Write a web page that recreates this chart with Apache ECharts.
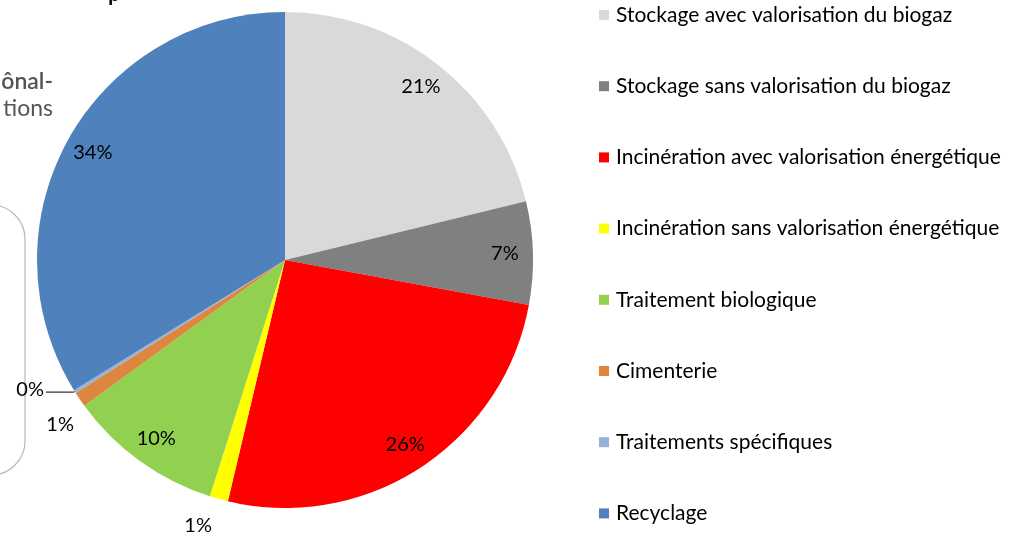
<!DOCTYPE html>
<html lang="fr">

<head>
    <meta charset="UTF-8">
    <title>Modes de traitement</title>
    <script src="https://cdn.jsdelivr.net/npm/echarts@6/dist/echarts.min.js"></script>
    <style>
        html, body { margin: 0; padding: 0; background: #ffffff; }
        #myecharts { width: 1030px; height: 536px; }
    </style>
</head>

<body>
    <div id="myecharts"></div>
</body>

<script>
    // categories et parts (%)
    var categories = [
        'Stockage avec valorisation du biogaz',
        'Stockage sans valorisation du biogaz',
        'Incinération avec valorisation énergétique',
        'Incinération sans valorisation énergétique',
        'Traitement biologique',
        'Cimenterie',
        'Traitements spécifiques',
        'Recyclage'
    ];
    var parts = [21.2, 6.7, 25.8, 1.2, 10.1, 1.0, 0.2, 33.8];
    var couleurs = ['#d9d9d9', '#808080', '#ff0000', '#ffff00', '#92d050', '#dd8640', '#95b3d7', '#4f81bd'];

    var font = 'Lato, "Open Sans", sans-serif';
    var R = 248;

    // petites parts : étiquette à l'extérieur
    function petit(v) { return v < 2; }

    // pourcentage arrondi, comme dans Excel
    function pct(p) { return Math.round(p.percent) + '%'; }

    var dataPie = categories.map(function (nom, i) {
        var v = parts[i];
        return {
            name: nom,
            value: v,
            itemStyle: { color: couleurs[i] },
            label: { show: petit(v) },
            labelLine: { show: i === 6, length: i === 6 ? 1 : 18, length2: i === 6 ? 28 : 0 }
        };
    });

    // anneau transparent pour placer les grandes étiquettes vers le bord
    var dataAnneau = categories.map(function (nom, i) {
        return {
            name: nom,
            value: parts[i],
            label: { show: !petit(parts[i]) }
        };
    });

    // petits décalages des étiquettes extérieures
    var decalages = { 3: [0, 9], 5: [11, 15], 6: [0, -3] };

    var myChart = echarts.init(document.getElementById('myecharts'));
    myChart.setOption({
        animation: false,
        legend: {
            orient: 'vertical',
            left: 594,
            top: -1,
            icon: 'rect',
            itemWidth: 10,
            itemHeight: 10,
            itemGap: 49.2,
            selectedMode: false,
            data: categories,
            textStyle: { fontFamily: font, fontSize: 21, lineHeight: 22, color: '#000', padding: [0, 0, 0, 2] }
        },
        graphic: [
            {
                type: 'rect',
                shape: { x: -220, y: 205, width: 245, height: 270, r: 34 },
                style: { fill: 'none', stroke: '#b8b8b8', lineWidth: 1.2 }
            },
            {
                type: 'text', x: 53, y: 82,
                style: { text: 'ônal-', font: '600 23px ' + font, fill: '#555', textAlign: 'right', textVerticalAlign: 'middle' }
            },
            {
                type: 'text', x: 53, y: 109,
                style: { text: 'tions', font: '23px ' + font, fill: '#555', textAlign: 'right', textVerticalAlign: 'middle' }
            },
            {
                type: 'text', left: 108, top: -17,
                style: { text: 'p', font: 'bold 22px ' + font, fill: '#111' }
            }
        ],
        series: [
            {
                name: 'Modes de traitement',
                type: 'pie',
                center: [285, 260],
                radius: [0, R],
                startAngle: 90,
                clockwise: true,
                avoidLabelOverlap: false,
                silent: true,
                itemStyle: { borderWidth: 0 },
                label: {
                    position: 'outside',
                    formatter: pct,
                    fontFamily: font,
                    fontSize: 20,
                    color: '#000',
                    distanceToLabelLine: 2
                },
                labelLine: { lineStyle: { color: '#000', width: 1 } },
                labelLayout: function (p) {
                    var d = decalages[p.dataIndex];
                    return d ? { dx: d[0], dy: d[1] } : {};
                },
                data: dataPie
            },
            {
                name: 'etiquettes',
                type: 'pie',
                center: [285, 260],
                radius: [R * 0.75, R],
                startAngle: 90,
                clockwise: true,
                avoidLabelOverlap: false,
                silent: true,
                legendHoverLink: false,
                itemStyle: { color: 'rgba(0,0,0,0)', borderWidth: 0 },
                label: {
                    position: 'inside',
                    formatter: pct,
                    fontFamily: font,
                    fontSize: 20,
                    color: '#000'
                },
                labelLine: { show: false },
                data: dataAnneau
            }
        ]
    });
</script>

</html>
